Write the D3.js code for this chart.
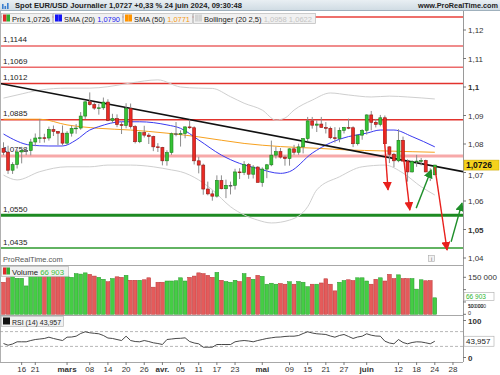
<!DOCTYPE html>
<html>
<head>
<meta charset="utf-8">
<script src="https://cdn.jsdelivr.net/npm/d3@7"></script>
<style>
body { margin: 0; background: #fff; }
svg { display: block; font-family: "Liberation Sans", Arial, sans-serif; }
</style>
</head>
<body>
<svg id="chart" width="500" height="375"></svg>
<script>
// daily candles: date, open, high, low, close
var candles = [
  ["02-12",1.0785,1.0806,1.0761,1.0771],["02-13",1.0771,1.0794,1.0695,1.0708],["02-14",1.0708,1.0736,1.0695,1.0728],
  ["02-15",1.0728,1.0780,1.0714,1.0772],["02-16",1.0772,1.0790,1.0732,1.0777],["02-19",1.0777,1.0789,1.0761,1.0777],
  ["02-20",1.0777,1.0818,1.0760,1.0807],["02-21",1.0807,1.0837,1.0792,1.0821],["02-22",1.0821,1.0888,1.0804,1.0822],
  ["02-23",1.0822,1.0836,1.0805,1.0821],["02-26",1.0821,1.0861,1.0812,1.0851],["02-27",1.0851,1.0865,1.0828,1.0844],
  ["02-28",1.0844,1.0845,1.0796,1.0838],["02-29",1.0838,1.0865,1.0795,1.0803],["03-01",1.0803,1.0845,1.0797,1.0838],
  ["03-04",1.0838,1.0865,1.0826,1.0855],["03-05",1.0855,1.0870,1.0836,1.0856],["03-06",1.0856,1.0912,1.0850,1.0898],
  ["03-07",1.0898,1.0950,1.0888,1.0948],["03-08",1.0948,1.0981,1.0935,1.0938],["03-11",1.0938,1.0947,1.0920,1.0926],
  ["03-12",1.0926,1.0941,1.0903,1.0927],["03-13",1.0927,1.0963,1.0920,1.0947],["03-14",1.0947,1.0957,1.0880,1.0883],
  ["03-15",1.0883,1.0906,1.0874,1.0889],["03-18",1.0889,1.0904,1.0859,1.0868],["03-19",1.0868,1.0877,1.0835,1.0865],
  ["03-20",1.0865,1.0943,1.0855,1.0925],["03-21",1.0925,1.0942,1.0854,1.0861],["03-22",1.0861,1.0866,1.0802,1.0808],
  ["03-25",1.0808,1.0843,1.0803,1.0840],["03-26",1.0840,1.0864,1.0823,1.0831],["03-27",1.0831,1.0838,1.0800,1.0826],
  ["03-28",1.0826,1.0829,1.0775,1.0790],["03-29",1.0790,1.0803,1.0772,1.0788],["04-01",1.0788,1.0790,1.0725,1.0741],
  ["04-02",1.0741,1.0778,1.0724,1.0770],["04-03",1.0770,1.0840,1.0762,1.0836],["04-04",1.0836,1.0877,1.0827,1.0836],
  ["04-05",1.0836,1.0848,1.0791,1.0837],["04-08",1.0837,1.0862,1.0820,1.0860],["04-09",1.0860,1.0885,1.0853,1.0857],
  ["04-10",1.0857,1.0862,1.0728,1.0741],["04-11",1.0741,1.0755,1.0697,1.0726],["04-12",1.0726,1.0731,1.0622,1.0642],
  ["04-15",1.0642,1.0668,1.0620,1.0625],["04-16",1.0625,1.0637,1.0601,1.0617],["04-17",1.0617,1.0690,1.0612,1.0672],
  ["04-18",1.0672,1.0690,1.0641,1.0643],["04-19",1.0643,1.0675,1.0610,1.0655],["04-22",1.0655,1.0668,1.0623,1.0655],
  ["04-23",1.0655,1.0713,1.0640,1.0702],["04-24",1.0702,1.0715,1.0677,1.0700],["04-25",1.0700,1.0740,1.0691,1.0728],
  ["04-26",1.0728,1.0733,1.0678,1.0694],["04-29",1.0694,1.0726,1.0679,1.0719],["04-30",1.0719,1.0722,1.0667,1.0665],
  ["05-01",1.0665,1.0718,1.0650,1.0712],["05-02",1.0712,1.0730,1.0680,1.0727],["05-03",1.0727,1.0812,1.0722,1.0761],
  ["05-06",1.0761,1.0790,1.0749,1.0773],["05-07",1.0773,1.0786,1.0749,1.0754],["05-08",1.0754,1.0760,1.0724,1.0749],
  ["05-09",1.0749,1.0785,1.0724,1.0783],["05-10",1.0783,1.0797,1.0762,1.0771],["05-13",1.0771,1.0801,1.0762,1.0790],
  ["05-14",1.0790,1.0821,1.0767,1.0819],["05-15",1.0819,1.0895,1.0810,1.0881],["05-16",1.0881,1.0895,1.0854,1.0866],
  ["05-17",1.0866,1.0883,1.0842,1.0870],["05-20",1.0870,1.0895,1.0858,1.0858],["05-21",1.0858,1.0877,1.0837,1.0855],
  ["05-22",1.0855,1.0861,1.0817,1.0822],["05-23",1.0822,1.0859,1.0805,1.0819],["05-24",1.0819,1.0858,1.0806,1.0848],
  ["05-27",1.0848,1.0860,1.0837,1.0858],["05-28",1.0858,1.0889,1.0852,1.0857],["05-29",1.0857,1.0862,1.0789,1.0801],
  ["05-30",1.0801,1.0834,1.0795,1.0831],["05-31",1.0831,1.0852,1.0815,1.0848],["06-03",1.0848,1.0904,1.0833,1.0902],
  ["06-04",1.0902,1.0916,1.0848,1.0876],["06-05",1.0876,1.0888,1.0858,1.0869],["06-06",1.0869,1.0902,1.0862,1.0892],
  ["06-07",1.0892,1.0900,1.0800,1.0801],["06-10",1.0790,1.0792,1.0733,1.0764],["06-11",1.0764,1.0769,1.0719,1.0741],
  ["06-12",1.0741,1.0852,1.0736,1.0813],["06-13",1.0813,1.0826,1.0740,1.0740],["06-14",1.0740,1.0746,1.0668,1.0702],
  ["06-17",1.0702,1.0743,1.0700,1.0738],["06-18",1.0738,1.0762,1.0720,1.0740],["06-19",1.0740,1.0751,1.0725,1.0742],
  ["06-20",1.0742,1.0745,1.0701,1.0702],["06-21",1.0702,1.0715,1.0670,1.0692],["06-24",1.0692,1.0727,1.0690,1.0726]
];

// daily volume, one per candle
var volumes = [
  130000,148000,152000,146000,146000,115000,160000,165000,160000,170000,
  165000,160000,165000,160000,155000,150000,165000,163000,168000,162000,
  155000,150000,142000,132000,145000,152000,150000,158000,138000,138000,
  138000,140000,148000,110000,130000,130000,135000,135000,136000,148000,
  135000,150000,155000,168000,165000,158000,150000,170000,138000,133000,
  130000,138000,133000,165000,150000,142000,158000,154000,122000,126000,
  122000,125000,122000,132000,122000,133000,130000,112000,122000,122000,
  127000,144000,122000,95000,130000,137000,140000,137000,148000,148000,
  135000,122000,142000,148000,135000,162000,145000,160000,145000,145000,
  145000,102000,140000,136000,137000,66903
];

// RSI (14), one per candle
var rsi = [
  37.8,33.2,36.5,42.4,42.4,42.4,45.9,48.6,50.0,51.4,
  54.9,51.4,48.6,45.9,54.9,55.4,57.6,64.9,69.5,66.8,
  65.4,64.1,59.5,52.7,51.4,48.6,45.9,57.6,45.9,43.2,
  42.4,45.9,43.2,39.7,37.8,35.1,48.6,50.0,51.4,51.9,
  53.2,43.2,39.2,37.0,27.8,27.8,27.8,35.1,35.1,35.1,
  35.1,42.4,44.6,45.9,44.6,42.4,45.9,48.6,51.4,53.2,
  54.9,55.4,56.8,57.6,57.6,59.5,64.9,69.5,66.2,64.1,
  63.2,62.2,58.1,54.9,59.5,62.2,56.8,51.4,55.4,57.6,
  64.1,60.3,58.1,57.6,44.1,39.2,37.0,48.6,40.5,37.0,
  40.5,42.4,41.9,39.7,37.0,43.957
];

// moving averages and bands at a few dates
var sma20 = [["02-12",1.0835],["02-20",1.0796],["02-26",1.0793],["02-29",1.0793],["03-05",1.0814],["03-08",1.0849],
  ["03-12",1.0861],["03-19",1.0878],["03-25",1.0878],["04-02",1.0867],["04-05",1.0855],["04-11",1.0814],
  ["04-18",1.0761],["04-24",1.0732],["04-30",1.0714],["05-07",1.0697],["05-09",1.0703],["05-16",1.0768],
  ["05-22",1.0804],["05-28",1.0826],["06-03",1.0838],["06-06",1.0849],["06-11",1.0849],["06-17",1.0826],["06-24",1.0790]];
var sma50 = [["02-12",1.0887],["02-22",1.0887],["03-01",1.0867],["03-12",1.0855],["03-21",1.0849],["04-02",1.0838],
  ["04-11",1.0825],["04-25",1.0802],["05-07",1.0791],["05-17",1.0785],["05-28",1.0779],["06-06",1.0776],
  ["06-17",1.0773],["06-24",1.0771]];
var bollUp = [["02-12",1.0961],["02-15",1.0972],["02-22",1.0989],["03-01",1.0996],["03-08",1.0996],["03-14",1.1001],
  ["03-21",1.1014],["03-29",1.1025],["04-05",1.1000],["04-11",1.0996],["04-16",1.0995],["04-22",1.0966],
  ["04-25",1.0943],["05-01",1.0919],["05-06",1.0884],["05-08",1.0891],["05-10",1.0919],["05-16",1.0954],
  ["05-22",1.0979],["05-28",1.0972],["06-04",1.0965],["06-10",1.0968],["06-14",1.0965],["06-24",1.0958]];
var bollDn = [["02-12",1.0691],["02-15",1.0674],["02-22",1.0703],["03-01",1.0720],["03-08",1.0720],["03-14",1.0726],
  ["03-21",1.0726],["03-28",1.0720],["04-03",1.0709],["04-05",1.0703],["04-11",1.0674],["04-16",1.0639],
  ["04-22",1.0580],["04-30",1.0533],["05-03",1.0523],["05-09",1.0533],["05-15",1.0580],["05-17",1.0639],
  ["05-24",1.0685],["05-31",1.0720],["06-07",1.0726],["06-13",1.0698],["06-19",1.0650],["06-24",1.0621]];

// horizontal levels drawn on the chart
var levelValues = [1.1246, 1.1144, 1.1069, 1.1012, 1.0885, 1.0758, 1.0550, 1.0435];
var levelLabels = ["", "1,1144", "1,1069", "1,1012", "1,0885", "1,0758", "1,0550", "1,0435"];
var levelColors = ["#e8403a", "#f08c8c", "#ec6a6a", "#e2332d", "#e2332d", "#f7a9a9", "#1d8a22", "#2e9a2e"];
var levelWidths = [1.5, 2, 1.5, 1.5, 1.5, 3, 3, 1.5];

// trend line (date, price) and drawn arrows (trading-day offset, price)
var trendLine = [["02-12", 1.1010], ["06-24", 1.0722]];
var arrows = [
  {from: [83.6, 1.0884], to: [84.7, 1.0639], color: "#e8201c"},
  {from: [88.1, 1.0755], to: [89.5, 1.0568], color: "#e8201c"},
  {from: [90.9, 1.0575], to: [94.2, 1.0709], color: "#1f8f2a"},
  {from: [95.0, 1.0720], to: [97.7, 1.0428], color: "#e8201c"},
  {from: [98.6, 1.0457], to: [101.0, 1.0593], color: "#1f8f2a"}
];

var priceTicks = [1.04, 1.05, 1.06, 1.07, 1.08, 1.09, 1.1, 1.11, 1.12];
var priceTickLabels = ["1,04", "1,05", "1,06", "1,07", "1,08", "1,09", "1,1", "1,11", "1,12"];
var volTicks = [0, 50000, 100000, 150000];
var volTickLabels = ["0", "50 000", "100 000", "150 000"];
var rsiTicks = [0, 100];
var dateTicks = ["02-16","02-21","03-01","03-08","03-14","03-20","03-26","04-01","04-05","04-11","04-17","04-23",
  "05-01","05-09","05-15","05-21","05-27","06-03","06-12","06-18","06-24","06-28"];
var dateTickLabels = ["16","21","mars","08","14","20","26","avr.","05","11","17","23",
  "mai","09","15","21","27","juin","12","18","24","28"];

var start = new Date(2024, 1, 12);
function dayIndex(md) {
  var p = md.split("-");
  var d = new Date(2024, +p[0] - 1, +p[1]);
  return d3.timeDay.range(start, d).filter(function(t) { return t.getDay() > 0 && t.getDay() < 6; }).length;
}

var W = 500, H = 375, axisX = 463;
var svg = d3.select("#chart");

var x = d3.scaleLinear().domain([0, 95]).range([3.5, 434.8]);
var y = d3.scaleLinear().domain([1.04, 1.12]).range([258, 30]);
var yVol = d3.scaleLinear().domain([0, 150000]).range([314.3, 277.3]);
var yRsi = d3.scaleLinear().domain([0, 100]).range([357.5, 320.5]);

svg.append("rect").attr("width", W).attr("height", H).attr("fill", "#fff");

svg.append("clipPath").attr("id", "pclip").append("rect")
  .attr("x", 0).attr("y", 11).attr("width", axisX).attr("height", 254);

var price = svg.append("g").attr("clip-path", "url(#pclip)");

// levels
levelValues.forEach(function(v, i) {
  price.append("line").attr("x1", 0).attr("x2", axisX)
    .attr("y1", y(v)).attr("y2", y(v))
    .attr("stroke", levelColors[i]).attr("stroke-width", levelWidths[i]);
  if (levelLabels[i]) {
    price.append("text").attr("x", 3).attr("y", y(v) - 3.5)
      .attr("font-size", 8).attr("fill", "#222").text(levelLabels[i]);
  }
});

// bollinger bands and moving averages
function curveOf(arr) {
  return d3.line()
    .x(function(d) { return x(dayIndex(d[0])); })
    .y(function(d) { return y(d[1]); })
    .curve(d3.curveMonotoneX)(arr);
}
price.append("path").attr("d", curveOf(bollUp)).attr("fill", "none").attr("stroke", "#cfcfcf").attr("stroke-width", 1);
price.append("path").attr("d", curveOf(bollDn)).attr("fill", "none").attr("stroke", "#cfcfcf").attr("stroke-width", 1);
price.append("path").attr("d", curveOf(sma50)).attr("fill", "none").attr("stroke", "#f7a11f").attr("stroke-width", 1);
price.append("path").attr("d", curveOf(sma20)).attr("fill", "none").attr("stroke", "#3a3af0").attr("stroke-width", 1);

// trend line
var t0 = dayIndex(trendLine[0][0]), t1 = dayIndex(trendLine[1][0]);
var slope = (trendLine[1][1] - trendLine[0][1]) / (t1 - t0);
var iLeft = x.invert(0), iRight = x.invert(axisX);
price.append("line")
  .attr("x1", 0).attr("y1", y(trendLine[0][1] + slope * (iLeft - t0)))
  .attr("x2", axisX).attr("y2", y(trendLine[0][1] + slope * (iRight - t0)))
  .attr("stroke", "#111").attr("stroke-width", 1.6);

// candles
var bars = price.selectAll(".candle").data(candles).enter().append("g").attr("class", "candle");
bars.append("line")
  .attr("x1", function(d, i) { return x(i); }).attr("x2", function(d, i) { return x(i); })
  .attr("y1", function(d) { return y(d[2]); }).attr("y2", function(d) { return y(d[3]); })
  .attr("stroke", "#8c8c8c").attr("stroke-width", 1);
bars.append("rect")
  .attr("x", function(d, i) { return x(i) - 1.5; })
  .attr("width", 3)
  .attr("y", function(d) { return y(Math.max(d[1], d[4])); })
  .attr("height", function(d) { return Math.max(0.8, Math.abs(y(d[1]) - y(d[4]))); })
  .attr("fill", function(d) { return d[4] > d[1] ? "#35c335" : (d[4] < d[1] ? "#ea2a24" : "#777"); })
  .attr("stroke", function(d) { return d[4] > d[1] ? "#1b7d1b" : (d[4] < d[1] ? "#8e1a16" : "#555"); })
  .attr("stroke-width", 0.6);

// arrows
var defs = svg.append("defs");
arrows.forEach(function(a, i) {
  defs.append("marker").attr("id", "ah" + i)
    .attr("viewBox", "0 0 10 10").attr("refX", 9).attr("refY", 5)
    .attr("markerWidth", 9).attr("markerHeight", 9).attr("markerUnits", "userSpaceOnUse")
    .attr("orient", "auto")
    .append("path").attr("d", "M0,0L10,5L0,10z").attr("fill", a.color);
  svg.append("line")
    .attr("x1", x(a.from[0])).attr("y1", y(a.from[1]))
    .attr("x2", x(a.to[0])).attr("y2", y(a.to[1]))
    .attr("stroke", a.color).attr("stroke-width", 1.4)
    .attr("marker-end", "url(#ah" + i + ")");
});

// price axis
svg.append("line").attr("x1", axisX + 0.5).attr("x2", axisX + 0.5).attr("y1", 11).attr("y2", 362)
  .attr("stroke", "#9a9a9a");
svg.append("line").attr("x1", 0.5).attr("x2", 0.5).attr("y1", 11).attr("y2", 362).attr("stroke", "#b0b0b0");
var last = candles[candles.length - 1];
var tagY = y(last[4]);
priceTicks.forEach(function(v, i) {
  svg.append("line").attr("x1", axisX).attr("x2", axisX + 3).attr("y1", y(v)).attr("y2", y(v)).attr("stroke", "#777");
  // a label under the last-price tag slips just below it
  var ly = y(v) + 3;
  if (Math.abs(y(v) - tagY) < 10) ly = Math.max(ly, tagY + 12.5);
  svg.append("text").attr("x", axisX + 5).attr("y", ly)
    .attr("font-size", 8).attr("fill", "#333")
    .attr("font-weight", (v === 1.1 || v === 1.05) ? "bold" : "normal")
    .text(priceTickLabels[i]);
});
svg.append("rect").attr("x", axisX + 1).attr("y", tagY - 5).attr("width", 35).attr("height", 10)
  .attr("fill", "#f5d21c").attr("stroke", "#c9a800").attr("stroke-width", 0.5);
svg.append("text").attr("x", axisX + 3).attr("y", tagY + 3).attr("font-size", 8.5).attr("font-weight", "bold")
  .attr("fill", "#111").text(d3.format(".4f")(last[4]).replace(".", ","));

svg.append("text").attr("x", 3).attr("y", 262).attr("font-size", 7.5).attr("fill", "#555").text("ProRealTime.com");
svg.append("rect").attr("x", 428.5).attr("y", 255.5).attr("width", 6).attr("height", 6)
  .attr("fill", "#f2f2f2").attr("stroke", "#aaa").attr("stroke-width", 0.6);
svg.append("text").attr("x", 431.5).attr("y", 260.5).attr("font-size", 5.5).attr("text-anchor", "middle")
  .attr("fill", "#666").text("i");

// panel separators
[265.5, 315.5, 362.5].forEach(function(yy) {
  svg.append("line").attr("x1", 0).attr("x2", axisX).attr("y1", yy).attr("y2", yy).attr("stroke", "#a8a8a8");
});

// volume panel
svg.selectAll(".vol").data(volumes).enter().append("rect")
  .attr("x", function(d, i) { return x(i) - 1.9; })
  .attr("width", 3.8)
  .attr("y", function(d) { return yVol(d); })
  .attr("height", function(d) { return yVol(0) - yVol(d); })
  .attr("fill", function(d, i) { return candles[i][4] >= candles[i][1] ? "#45cd45" : "#e45b5b"; })
  .attr("stroke", function(d, i) { return candles[i][4] >= candles[i][1] ? "#26962a" : "#b83434"; })
  .attr("stroke-width", 0.5);
var lastVol = volumes[volumes.length - 1];
var volTagY = yVol(lastVol);
volTicks.forEach(function(v, i) {
  svg.append("line").attr("x1", axisX).attr("x2", axisX + 3).attr("y1", yVol(v)).attr("y2", yVol(v)).attr("stroke", "#777");
  var ly = yVol(v) + 3, fs = 8;
  if (v === 0) { ly = 315.3; fs = 5.5; }
  // the label hidden by the last-volume tag is squeezed in below it
  if (Math.abs(yVol(v) - volTagY) < 10) { ly = volTagY + 10.7; fs = 5; }
  svg.append("text").attr("x", axisX + 5).attr("y", ly)
    .attr("font-size", fs).attr("fill", "#333").text(volTickLabels[i]);
});
svg.append("rect").attr("x", axisX + 1).attr("y", volTagY - 5.5).attr("width", 30).attr("height", 8)
  .attr("fill", "#fff").attr("stroke", "#aaa").attr("stroke-width", 0.6);
svg.append("text").attr("x", axisX + 3).attr("y", volTagY + 1).attr("font-size", 6.5).attr("fill", "#2fb52f")
  .text(d3.format(",")(lastVol).replace(",", " "));

// rsi panel
[30, 70].forEach(function(v) {
  svg.append("line").attr("x1", 0).attr("x2", axisX).attr("y1", yRsi(v)).attr("y2", yRsi(v))
    .attr("stroke", "#9a9a9a").attr("stroke-dasharray", "3,2").attr("stroke-width", 0.7);
});
svg.append("path").datum(rsi)
  .attr("d", d3.line().x(function(d, i) { return x(i); }).y(function(d) { return yRsi(d); }))
  .attr("fill", "none").attr("stroke", "#333").attr("stroke-width", 0.9);
rsiTicks.forEach(function(v) {
  svg.append("line").attr("x1", axisX).attr("x2", axisX + 3).attr("y1", yRsi(v)).attr("y2", yRsi(v)).attr("stroke", "#777");
  svg.append("text").attr("x", axisX + 5).attr("y", yRsi(v) + (v === 100 ? 3.6 : 3)).attr("font-size", 8).attr("fill", "#333")
    .attr("font-weight", "bold").text(v);
});
var lastRsi = rsi[rsi.length - 1];
svg.append("rect").attr("x", axisX + 1).attr("y", yRsi(lastRsi) - 5).attr("width", 30).attr("height", 10)
  .attr("fill", "#fff").attr("stroke", "#aaa").attr("stroke-width", 0.6);
svg.append("text").attr("x", axisX + 3).attr("y", yRsi(lastRsi) + 3).attr("font-size", 8).attr("fill", "#222")
  .text(d3.format(".3f")(lastRsi).replace(".", ","));

// date axis
dateTicks.forEach(function(md, i) {
  var xx = x(dayIndex(md));
  var bold = isNaN(+dateTickLabels[i]);
  svg.append("line").attr("x1", xx).attr("x2", xx).attr("y1", 362).attr("y2", 365).attr("stroke", "#777");
  svg.append("text").attr("x", xx).attr("y", 372).attr("text-anchor", "middle")
    .attr("font-size", 8).attr("font-weight", bold ? "bold" : "normal").attr("fill", "#333")
    .text(dateTickLabels[i]);
});

// header
var hg = defs.append("linearGradient").attr("id", "hdr").attr("x1", 0).attr("x2", 0).attr("y1", 0).attr("y2", 1);
hg.append("stop").attr("offset", 0).attr("stop-color", "#e9eff3");
hg.append("stop").attr("offset", 1).attr("stop-color", "#cfdbe3");
svg.append("rect").attr("x", 0).attr("y", 0).attr("width", W).attr("height", 10.5).attr("fill", "url(#hdr)");
svg.append("line").attr("x1", 0).attr("x2", W).attr("y1", 10.5).attr("y2", 10.5).attr("stroke", "#9fb0bc");
[[2, 5], [4.5, 3], [7, 6]].forEach(function(b) {
  svg.append("rect").attr("x", b[0]).attr("y", 9 - b[1]).attr("width", 1.6).attr("height", b[1]).attr("fill", "#3b7fd0");
});
svg.append("text").attr("x", 15).attr("y", 8.3).attr("font-size", 8).attr("font-weight", "bold").attr("fill", "#222")
  .attr("textLength", 227).attr("lengthAdjust", "spacingAndGlyphs")
  .text("Spot EUR/USD Journalier 1,0727 +0,33 % 24 juin 2024, 09:30:48");
svg.append("text").attr("x", 498).attr("y", 8.3).attr("font-size", 7.5).attr("font-weight", "bold").attr("fill", "#222")
  .attr("text-anchor", "end").attr("textLength", 80).attr("lengthAdjust", "spacingAndGlyphs")
  .text("www.ProRealTime.com");

// legend boxes
function legendBox(x0, w, y0) {
  svg.append("rect").attr("x", x0 + 0.5).attr("y", y0 + 0.5).attr("width", w).attr("height", 10)
    .attr("fill", "#f1f1f1").attr("stroke", "#b8b8b8").attr("stroke-width", 0.7);
}
function swatch(x0, y0, c1, c2) {
  svg.append("rect").attr("x", x0).attr("y", y0).attr("width", 3.5).attr("height", 7).attr("fill", c1);
  svg.append("rect").attr("x", x0 + 3.5).attr("y", y0).attr("width", 3.5).attr("height", 7).attr("fill", c2);
}
function legendText(x0, y0, parts, len) {
  var t = svg.append("text").attr("x", x0).attr("y", y0).attr("font-size", 7.5)
    .attr("textLength", len).attr("lengthAdjust", "spacingAndGlyphs");
  parts.forEach(function(p) { t.append("tspan").attr("fill", p[1]).text(p[0]); });
}
legendBox(1, 51, 13); swatch(3, 14.5, "#e02a2a", "#2fae2f");
legendText(12, 21.5, [["Prix 1,0726", "#222"]], 38);
legendBox(53, 69, 13); swatch(55, 14.5, "#1515f5", "#1515f5");
legendText(64, 21.5, [["SMA (20) ", "#222"], ["1,0790", "#2323f0"]], 56);
legendBox(123, 69, 13); swatch(125, 14.5, "#ff9400", "#ff9400");
legendText(134, 21.5, [["SMA (50) ", "#222"], ["1,0771", "#f59a18"]], 56);
legendBox(193, 122, 13); swatch(195, 14.5, "#d4d4d4", "#d4d4d4");
legendText(204, 21.5, [["Bollinger (20 2,5) ", "#222"], ["1,0958 1,0622", "#c4c4c4"]], 108);

legendBox(1, 67, 266); swatch(3, 267.5, "#e02a2a", "#2fae2f");
legendText(12, 274.5, [["Volume ", "#222"], ["66 903", "#3cc23c"]], 52);
legendBox(1, 62, 316); svg.append("rect").attr("x", 3).attr("y", 317.5).attr("width", 7).attr("height", 7).attr("fill", "#111");
legendText(12, 324.5, [["RSI (14) 43,957", "#222"]], 49);
</script>
</body>
</html>
